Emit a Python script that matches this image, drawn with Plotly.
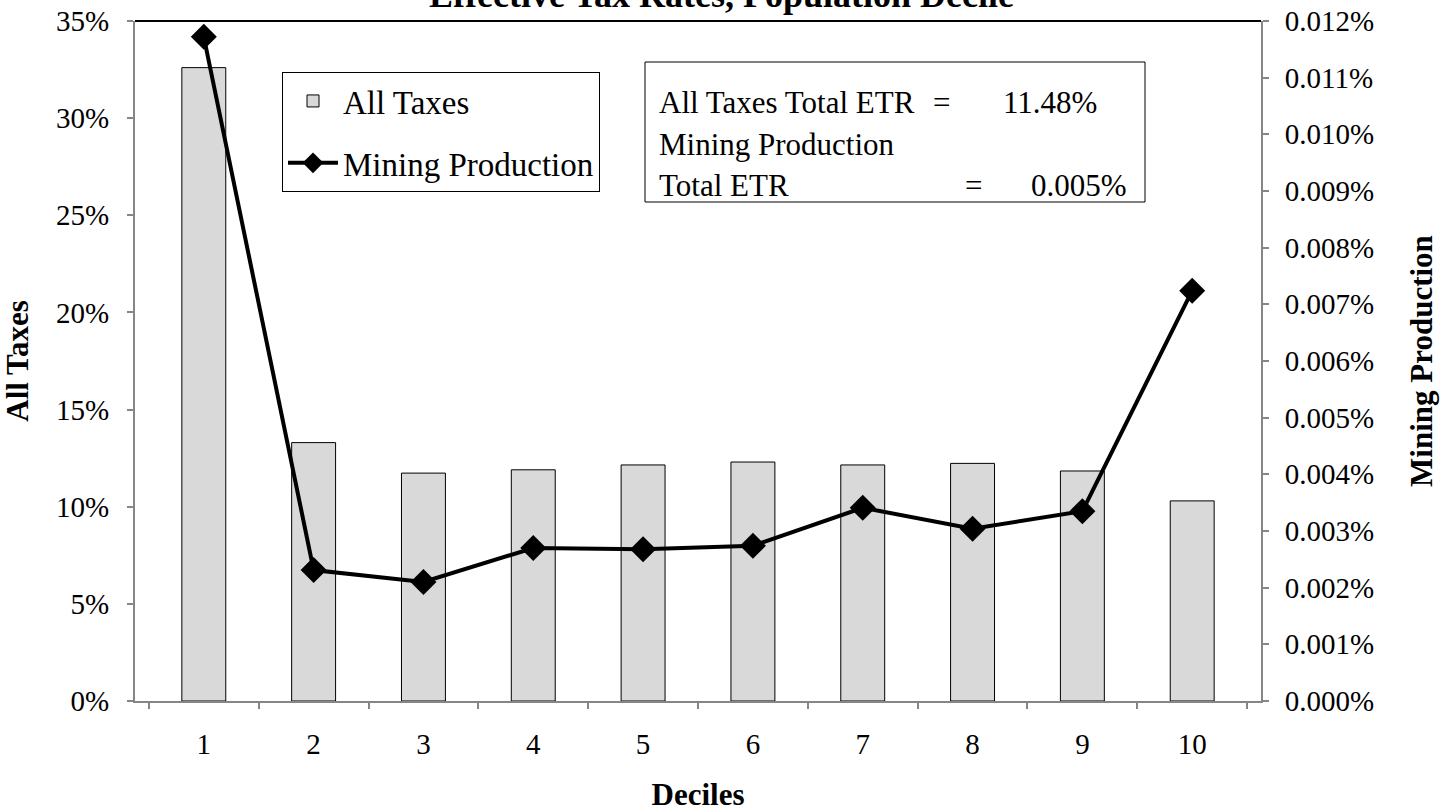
import plotly.graph_objects as go

deciles = ["1", "2", "3", "4", "5", "6", "7", "8", "9", "10"]
all_taxes = [32.6, 13.3, 11.73, 11.9, 12.15, 12.3, 12.15, 12.23, 11.84, 10.3]          # percent
mining_production = [0.01172, 0.00231, 0.00210, 0.00270, 0.00268, 0.00274,
                     0.00341, 0.00304, 0.00335, 0.00724]                                # percent

FONT = "Liberation Serif, Times New Roman, serif"
AXIS_GRAY = "#868686"
TICK_SIZE = 29
TITLE_SIZE = 31
TEXT_SIZE = 31
LEGEND_SIZE = 33

PL, PT, PW, PH = 135, 21, 1126, 680
W, H = 1449, 812

fig = go.Figure()
fig.add_trace(go.Bar(
    x=deciles, y=all_taxes, name="All Taxes",
    marker=dict(color="#d9d9d9", line=dict(color="black", width=1)),
    legendgroup="a",
))
fig.add_trace(go.Scatter(
    x=deciles, y=mining_production, name="Mining Production", yaxis="y2",
    mode="lines+markers",
    line=dict(color="black", width=4),
    marker=dict(symbol="diamond", size=20, color="black"),
    legendgroup="b",
))

fig.update_layout(
    width=W, height=H,
    margin=dict(l=PL, r=W - PL - PW, t=PT, b=H - PT - PH, autoexpand=False),
    paper_bgcolor="white", plot_bgcolor="white",
    font=dict(family=FONT, size=TICK_SIZE, color="black"),
    bargap=0.6,
    showlegend=True,
    legend=dict(
        x=(282 - PL) / PW, y=1 - (72 - PT) / PH,
        xanchor="left", yanchor="top",
        bordercolor="black", borderwidth=1, bgcolor="white",
        font=dict(family=FONT, size=LEGEND_SIZE),
        tracegroupgap=16, itemwidth=50,
    ),
    xaxis=dict(
        type="category", tickson="boundaries", automargin=False,
        showline=True, linecolor=AXIS_GRAY, linewidth=2,
        ticks="outside", ticklen=6, tickcolor=AXIS_GRAY, tickwidth=2,
        showgrid=False, zeroline=False,
        ticklabelstandoff=16, ticklabeloverflow="allow",
        title=dict(text="<b>Deciles</b>", font=dict(family=FONT, size=TITLE_SIZE), standoff=29),
    ),
    yaxis=dict(
        range=[0, 35], dtick=5, ticksuffix="%", automargin=False,
        showline=True, linecolor=AXIS_GRAY, linewidth=2,
        ticks="outside", ticklen=6, tickcolor=AXIS_GRAY, tickwidth=2,
        showgrid=False, zeroline=False,
        ticklabelstandoff=12, ticklabeloverflow="allow",
        title=dict(text="<b>All Taxes</b>", font=dict(family=FONT, size=TITLE_SIZE), standoff=27),
    ),
    yaxis2=dict(
        range=[0, 0.012], dtick=0.001, tickformat=".3f", ticksuffix="%", automargin=False,
        overlaying="y", side="right",
        showline=True, linecolor=AXIS_GRAY, linewidth=2,
        ticks="outside", ticklen=6, tickcolor=AXIS_GRAY, tickwidth=2,
        showgrid=False, zeroline=False,
        ticklabelstandoff=10, ticklabeloverflow="allow",
        title=dict(text="<b>Mining Production</b>", font=dict(family=FONT, size=TITLE_SIZE), standoff=37),
    ),
)

# top border of the plot area
fig.add_shape(type="line", xref="paper", yref="paper", x0=0, x1=1, y0=1, y1=1,
              line=dict(color="black", width=2))


def px_x(px):
    return (px - PL) / PW


def px_y(py):
    return 1 - (py - PT) / PH


# title (partially cut off at the top, as in the original)
fig.add_annotation(text="<b>Effective Tax Rates, Population Decile</b>",
                   xref="paper", yref="paper", x=px_x(721), y=px_y(-5),
                   xanchor="center", yanchor="middle", showarrow=False,
                   font=dict(family=FONT, size=36))

# summary text box
fig.add_shape(type="rect", xref="paper", yref="paper",
              x0=px_x(645), x1=px_x(1145), y0=px_y(62), y1=px_y(202),
              line=dict(color="black", width=1), fillcolor="white", layer="above")
txt = dict(xref="paper", yref="paper", showarrow=False, yanchor="middle",
           font=dict(family=FONT, size=TEXT_SIZE))
fig.add_annotation(text="All Taxes Total ETR", x=px_x(657), y=px_y(102), xanchor="left", **txt)
fig.add_annotation(text="=", x=px_x(941), y=px_y(102), xanchor="center", **txt)
fig.add_annotation(text="11.48%", x=px_x(1099), y=px_y(102), xanchor="right", **txt)
fig.add_annotation(text="Mining Production", x=px_x(657), y=px_y(144), xanchor="left", **txt)
fig.add_annotation(text="Total ETR", x=px_x(657), y=px_y(185), xanchor="left", **txt)
fig.add_annotation(text="=", x=px_x(973), y=px_y(185), xanchor="center", **txt)
fig.add_annotation(text="0.005%", x=px_x(1129), y=px_y(185), xanchor="right", **txt)

# remove the default page margin so the figure starts at the window's top-left corner
fig.write_html("out.html", config={"displayModeBar": False},
               post_script="document.body.style.margin='0';")
